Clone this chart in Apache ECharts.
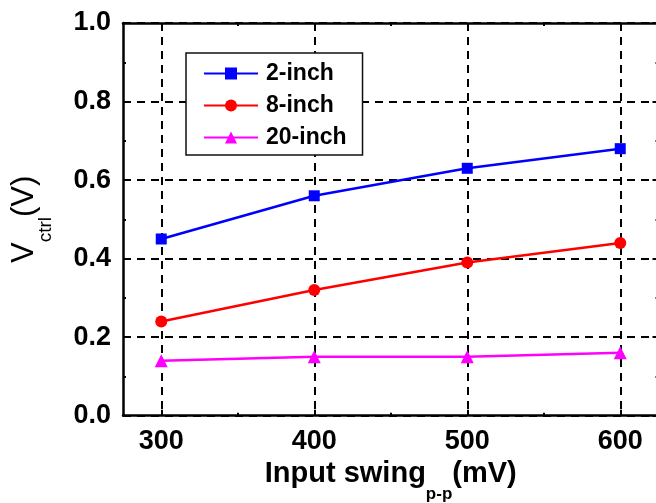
<!DOCTYPE html>
<html>
<head>
<meta charset="utf-8">
<script src="https://cdn.jsdelivr.net/npm/echarts@6/dist/echarts.min.js"></script>
<style>
  html, body { margin: 0; padding: 0; background: #fff; }
  #chart { width: 656px; height: 503px; }
</style>
</head>
<body>
<div id="chart"></div>
<script>
// Input swing (peak-to-peak, mV) on the x axis
const swing = [300, 400, 500, 600];
// Control voltage (V) for each cable length
const inch2 = [0.45, 0.56, 0.63, 0.68];
const inch8 = [0.24, 0.32, 0.39, 0.44];
const inch20 = [0.14, 0.15, 0.15, 0.16];
const seriesNames = ['2-inch', '8-inch', '20-inch'];
const xMajorTicks = [300, 400, 500, 600];
const xMinorTicks = [350, 450, 550];

const FONT = '"Liberation Sans", Arial, sans-serif';
const BLACK = '#000';

const pairs = (ys) => swing.map((x, i) => [x, ys[i]]);

const axisLine = { show: true, lineStyle: { color: BLACK, width: 2.5 } };
const gridDash = { show: true, lineStyle: { color: BLACK, width: 2, type: [8, 6] } };

// Rich-text styles for axis titles: main text on top, subscript dropped to the line bottom
const titleRich = (weight, size, subSize, lineH) => ({
  a: { fontFamily: FONT, fontWeight: weight, fontSize: size, color: BLACK, lineHeight: size, verticalAlign: 'top' },
  s: { fontFamily: FONT, fontWeight: weight, fontSize: subSize, color: BLACK, lineHeight: lineH, verticalAlign: 'bottom' }
});

const chart = echarts.init(document.getElementById('chart'), null, { renderer: 'canvas' });

chart.setOption({
  animation: false,
  backgroundColor: '#fff',
  grid: { left: 123, top: 23, right: -2.5, bottom: 87.3, containLabel: false, outerBoundsMode: 'none' },
  legend: {
    orient: 'vertical',
    left: 186, top: 53,
    padding: [9, 16, 6, 17],
    itemGap: 9,
    itemWidth: 54,
    itemHeight: 15,
    borderColor: '#111', borderWidth: 1.5,
    backgroundColor: '#fff',
    textStyle: { fontFamily: FONT, fontWeight: 'bold', fontSize: 23, color: BLACK, lineHeight: 22, padding: [0, 0, 0, 3] },
    data: seriesNames
  },
  xAxis: [
    {
      type: 'value', min: 275, max: 625, position: 'bottom',
      axisLine: axisLine,
      axisTick: { show: true, inside: true, length: 6, customValues: xMajorTicks, lineStyle: { color: BLACK, width: 2 } },
      axisLabel: { customValues: xMajorTicks, fontFamily: FONT, fontWeight: 'bold', fontSize: 27, color: BLACK, margin: 12 },
      splitLine: gridDash,
      name: '{a|Input swing}{s|p-p}{a|(mV)}',
      nameLocation: 'middle', nameGap: 43,
      nameTextStyle: { rich: titleRich('bold', 29, 17, 43) }
    },
    {
      type: 'value', min: 275, max: 625, position: 'bottom',
      axisLine: { show: false },
      axisTick: { show: true, inside: true, length: 3, customValues: xMinorTicks, lineStyle: { color: BLACK, width: 2 } },
      axisLabel: { show: false }, splitLine: { show: false }
    },
    {
      type: 'value', min: 275, max: 625, position: 'top',
      axisLine: axisLine,
      axisTick: { show: true, inside: true, length: 6, customValues: xMajorTicks, lineStyle: { color: BLACK, width: 2 } },
      axisLabel: { show: false }, splitLine: { show: false }
    },
    {
      type: 'value', min: 275, max: 625, position: 'top',
      axisLine: { show: false },
      axisTick: { show: true, inside: true, length: 3, customValues: xMinorTicks, lineStyle: { color: BLACK, width: 2 } },
      axisLabel: { show: false }, splitLine: { show: false }
    }
  ],
  yAxis: [
    {
      type: 'value', min: 0, max: 1, interval: 0.2, position: 'left',
      axisLine: axisLine,
      axisTick: { show: true, inside: true, length: 6, lineStyle: { color: BLACK, width: 2 } },
      minorTick: { show: true, splitNumber: 2, length: 3, lineStyle: { color: BLACK, width: 2 } },
      axisLabel: { fontFamily: FONT, fontWeight: 'bold', fontSize: 27, color: BLACK, margin: 12, formatter: (v) => v.toFixed(1) },
      splitLine: gridDash,
      name: '{a|V}{s|ctrl}{a|(V)}',
      nameLocation: 'middle', nameRotate: 90, nameGap: 68,
      nameTextStyle: { rich: titleRich('normal', 31, 19, 46) }
    },
    {
      type: 'value', min: 0, max: 1, interval: 0.2, position: 'right',
      axisLine: axisLine,
      axisTick: { show: true, inside: true, length: 6, lineStyle: { color: BLACK, width: 2 } },
      minorTick: { show: true, splitNumber: 2, length: 3, lineStyle: { color: BLACK, width: 2 } },
      axisLabel: { show: false }, splitLine: { show: false }
    }
  ],
  series: [
    {
      name: seriesNames[0], type: 'line', data: pairs(inch2),
      symbol: 'rect', symbolSize: 11,
      lineStyle: { color: '#0000ff', width: 2.5 }, itemStyle: { color: '#0000ff' }, z: 5
    },
    {
      name: seriesNames[1], type: 'line', data: pairs(inch8),
      symbol: 'circle', symbolSize: 12,
      lineStyle: { color: '#ff0000', width: 2.5 }, itemStyle: { color: '#ff0000' }, z: 5
    },
    {
      name: seriesNames[2], type: 'line', data: pairs(inch20),
      symbol: 'triangle', symbolSize: 13,
      lineStyle: { color: '#ff00ff', width: 2.5 }, itemStyle: { color: '#ff00ff' }, z: 5
    }
  ]
});
</script>
</body>
</html>
